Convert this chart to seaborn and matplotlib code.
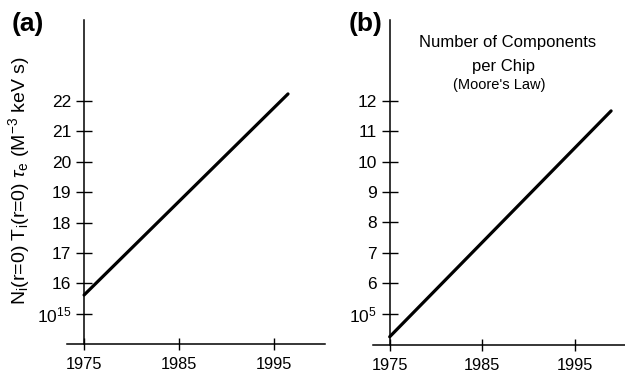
import matplotlib
matplotlib.use("Agg")
import matplotlib.pyplot as plt
import seaborn as sns
import pandas as pd

sns.set_theme(style="white")
plt.rcParams['font.family'] = ['Liberation Sans', 'DejaVu Sans']
plt.rcParams['mathtext.fontset'] = 'custom'
plt.rcParams['mathtext.rm'] = 'Liberation Sans'
plt.rcParams['mathtext.it'] = 'Liberation Sans:italic'
plt.rcParams['text.color'] = 'black'
plt.rcParams['axes.labelcolor'] = 'black'

# Data
years_a = [1975, 1996.5]
vals_a = [15.62, 22.23]
years_b = [1975, 1998.9]
vals_b = [4.24, 11.67]

xticks = [1975, 1985, 1995]
yticks_a = [15, 16, 17, 18, 19, 20, 21, 22]
yticklabels_a = ["$10^{15}$", "16", "17", "18", "19", "20", "21", "22"]
yticks_b = [5, 6, 7, 8, 9, 10, 11, 12]
yticklabels_b = ["$10^{5}$", "6", "7", "8", "9", "10", "11", "12"]

ylabel_a = r"N$_\mathrm{i}$(r=0) T$_\mathrm{i}$(r=0) $\tau_\mathrm{e}$ (M$^{-3}$ keV s)"
title_b = ["Number of Components", "per Chip", "(Moore's Law)"]

fig = plt.figure(figsize=(6.25, 3.78), dpi=100)
ax_a = fig.add_axes([67/625, 1-344/378, (325-67)/625, (344-20)/378])
ax_b = fig.add_axes([373/625, 1-345/378, (625-373)/625, (345-20)/378])

df_a = pd.DataFrame({"year": years_a, "val": vals_a})
df_b = pd.DataFrame({"year": years_b, "val": vals_b})
sns.lineplot(data=df_a, x="year", y="val", ax=ax_a, color="black", linewidth=2.3)
sns.lineplot(data=df_b, x="year", y="val", ax=ax_b, color="black", linewidth=2.3)

def style(ax, ylim, yticks, ylabels):
    ax.set_xlim(1973.2, 2000.4)
    ax.set_ylim(*ylim)
    ax.set_xticks(xticks)
    ax.set_xticklabels([str(x) for x in xticks])
    ax.set_yticks(yticks)
    ax.set_yticklabels(ylabels)
    for s in ["top", "right"]:
        ax.spines[s].set_visible(False)
    for s in ["left", "bottom"]:
        ax.spines[s].set_color("black")
        ax.spines[s].set_linewidth(1.1)
    ax.spines["left"].set_position(("data", 1975))
    ax.tick_params(axis="y", direction="inout", length=11.5, width=1.0, pad=3.5,
                   labelsize=12.5, colors="black", left=True)
    ax.tick_params(axis="x", direction="inout", length=8.6, width=1.0, pad=5,
                   labelsize=11.8, colors="black", bottom=True)
    ax.set_xlabel("")
    ax.set_ylabel("")
    ax.set_facecolor("white")

style(ax_a, (14.01, 24.66), yticks_a, yticklabels_a)
style(ax_b, (3.97, 14.66), yticks_b, yticklabels_b)

ax_a.set_ylabel(ylabel_a, fontsize=14, color="black")
ax_a.yaxis.set_label_coords(-0.137, 0.505)

fig.text(12/625, 1-31/378, "(a)", fontsize=19, fontweight="bold", va="baseline", ha="left")
fig.text(349/625, 1-31/378, "(b)", fontsize=19, fontweight="bold", va="baseline", ha="left")

fig.text(508/625, 1-46.7/378, title_b[0], fontsize=12, ha="center", va="baseline")
fig.text(504/625, 1-71/378, title_b[1], fontsize=12, ha="center", va="baseline")
fig.text(499/625, 1-89/378, title_b[2], fontsize=10.5, ha="center", va="baseline")

fig.savefig("out.png", dpi=100, facecolor="white")
